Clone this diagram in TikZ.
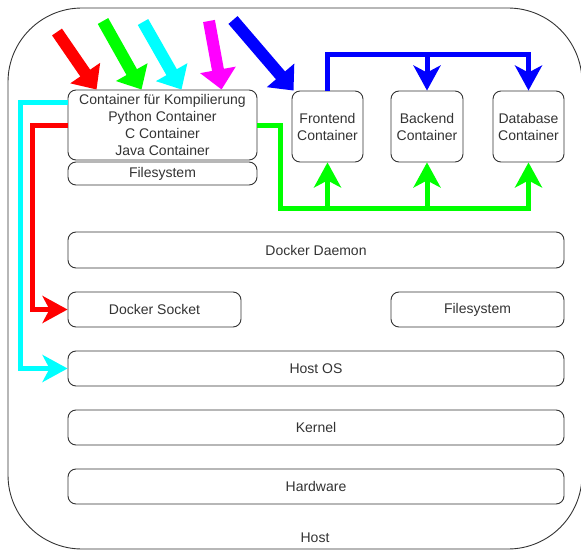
\documentclass[tikz,border=0pt]{standalone}
\usepackage{fontspec}
\setmainfont{Liberation Sans}
\usetikzlibrary{arrows.meta}
\definecolor{ink}{HTML}{333333}
\definecolor{wred}{HTML}{FF0000}
\definecolor{wgreen}{HTML}{00FF00}
\definecolor{wcyan}{HTML}{00FFFF}
\definecolor{wmagenta}{HTML}{FF00FF}
\definecolor{wblue}{HTML}{0000FF}
\begin{document}
\begin{tikzpicture}[x=1pt,y=-1pt,
  box/.style={draw=ink, line width=0.9pt, rounded corners=8pt, fill=white,
    text=ink, font=\fontsize{14}{17}\selectfont, align=center, inner sep=0pt},
  wire/.style={line width=5pt, -{Stealth[length=25pt,width=27pt,inset=7pt]}},
  fat/.style={line width=12pt, -{Triangle[length=20pt,width=35pt]}},
  lbl/.style={text=ink, font=\fontsize{14}{17}\selectfont}
]
\useasboundingbox (0,0) rectangle (581,551);

% outer host frame
\node[draw=ink, line width=0.9pt, rounded corners=74pt, minimum width=574pt,
  minimum height=541pt, inner sep=0pt] (host) at (295,278.5) {};
\node[lbl] (hostlbl) at (315,538) {Host};

% container layer
\node[box, minimum width=189pt, minimum height=70pt] (comp) at (162.5,125)
  {Container für Kompilierung\\Python Container\\C Container\\Java Container};
\node[box, minimum width=189pt, minimum height=23pt] (fs1) at (162.5,173.5) {Filesystem};
\node[box, minimum width=71pt, minimum height=71pt] (front) at (327.5,126.5) {Frontend\\Container};
\node[box, minimum width=72pt, minimum height=71pt] (back) at (427,126.5) {Backend\\Container};
\node[box, minimum width=71pt, minimum height=71pt] (db) at (528.5,126.5) {Database\\Container};

% host layers
\node[box, minimum width=496pt, minimum height=36pt] (daemon) at (316,250) {Docker Daemon};
\node[box, minimum width=173pt, minimum height=35pt] (socket) at (154.5,309.5) {Docker Socket};
\node[box, minimum width=173pt, minimum height=35pt] (fs2) at (477.5,309.5) {Filesystem};
\node[box, minimum width=496pt, minimum height=35pt] (hostos) at (316,368.5) {Host OS};
\node[box, minimum width=496pt, minimum height=35pt] (kernel) at (316,427.5) {Kernel};
\node[box, minimum width=496pt, minimum height=35pt] (hardware) at (316,486.5) {Hardware};

% routed connectors
\draw[wire, wcyan] ([yshift=23pt]comp.west) -- ++(-47,0) |- (hostos.west);
\draw[wire, wred] (comp.west) -- ++(-35,0) |- (socket.west);

\coordinate (gbus) at (280,208);
\draw[wire, wgreen] (comp.east) -| (gbus) -| (db.south);
\draw[wire, wgreen] (gbus -| front.south) -- (front.south);
\draw[wire, wgreen] (gbus -| back.south) -- (back.south);

\coordinate (bbus) at (0,55);
\draw[wire, wblue] (front.north) |- (bbus -| db.north) -- (db.north);
\draw[wire, wblue] (bbus -| back.north) -- (back.north);

% incoming requests
\coordinate (tred) at (57,32);
\coordinate (tgreen) at (103,21);
\coordinate (tcyan) at (143,22);
\coordinate (tmag) at (209,21);
\coordinate (tblue) at (233,20);
\draw[fat, wred] (tred) -- ([xshift=29pt]comp.north west);
\draw[fat, wgreen] (tgreen) -- ([xshift=74pt]comp.north west);
\draw[fat, wcyan] (tcyan) -- ([xshift=114pt]comp.north west);
\draw[fat, wmagenta] (tmag) -- ([xshift=154pt]comp.north west);
\draw[fat, wblue] (tblue) -- ([xshift=2pt]front.north west);
\end{tikzpicture}
\end{document}
